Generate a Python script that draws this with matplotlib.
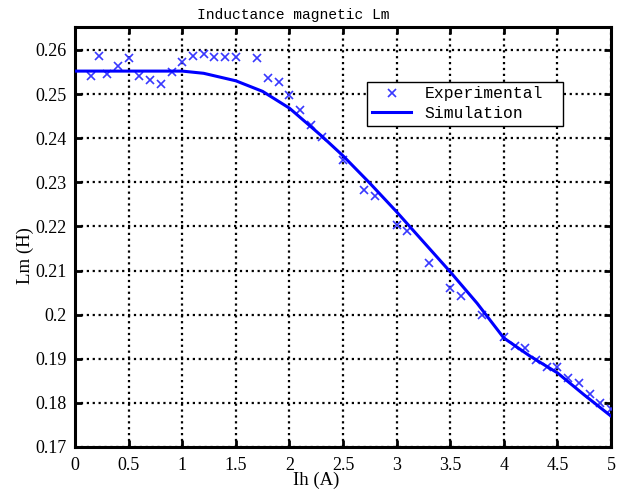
import matplotlib
matplotlib.use("Agg")
import matplotlib.pyplot as plt

# experimental points
exp_x = [0.15, 0.22, 0.3, 0.4, 0.5, 0.6, 0.7, 0.8, 0.9, 1.0, 1.1, 1.2, 1.3, 1.4, 1.5,
         1.7, 1.8, 1.9, 2.0, 2.1, 2.2, 2.3, 2.5, 2.7, 2.8, 3.0, 3.1, 3.3, 3.5, 3.6,
         3.8, 4.0, 4.1, 4.2, 4.3, 4.4, 4.5, 4.6, 4.7, 4.8, 4.9, 5.0]
exp_y = [0.2540, 0.2587, 0.2545, 0.2564, 0.2582, 0.2540, 0.2531, 0.2522, 0.2550, 0.2573,
         0.2587, 0.2590, 0.2584, 0.2584, 0.2584, 0.2581, 0.2537, 0.2528, 0.2498, 0.2463,
         0.2429, 0.2402, 0.2351, 0.2283, 0.2268, 0.2204, 0.2190, 0.2117, 0.2060, 0.2043,
         0.1999, 0.1949, 0.1928, 0.1925, 0.1898, 0.1882, 0.1882, 0.1856, 0.1844, 0.1819,
         0.1800, 0.1785]

# simulation curve
sim_x = [0, 1.0, 1.2, 1.5, 1.75, 2.0, 2.3, 2.5, 2.75, 3.0, 3.25, 3.5, 3.75, 4.0,
         4.25, 4.5, 4.75, 5.0]
sim_y = [0.2552, 0.2552, 0.2547, 0.2530, 0.2506, 0.2468, 0.2405, 0.2360, 0.2298,
         0.2233, 0.2165, 0.2097, 0.2026, 0.1947, 0.1905, 0.1868, 0.1818, 0.1770]

xticks = [0, 0.5, 1, 1.5, 2, 2.5, 3, 3.5, 4, 4.5, 5]
xlabels = ["0", "0.5", "1", "1.5", "2", "2.5", "3", "3.5", "4", "4.5", "5"]
yticks = [0.17, 0.18, 0.19, 0.2, 0.21, 0.22, 0.23, 0.24, 0.25, 0.26]
ylabels = ["0.17", "0.18", "0.19", "0.2", "0.21", "0.22", "0.23", "0.24", "0.25", "0.26"]

serif = ['Liberation Serif', 'DejaVu Serif']
mono = ['Liberation Mono', 'DejaVu Sans Mono']

fig = plt.figure(figsize=(6.18, 4.95), dpi=100)
ax = fig.add_axes([0.1214, 0.097, 0.8673, 0.8485])

ax.plot(exp_x, exp_y, 'x', color='#3838ff', markersize=6, markeredgewidth=1.2,
        label='Experimental', zorder=3)
ax.plot(sim_x, sim_y, '-', color='#0000ff', linewidth=2.2, label='Simulation', zorder=4)

ax.set_xlim(0, 5)
ax.set_ylim(0.17, 0.2652)
ax.set_xticks(xticks)
ax.set_xticklabels(xlabels, family=serif, fontsize=13)
ax.set_yticks(yticks)
ax.set_yticklabels(ylabels, family=serif, fontsize=13)

ax.grid(True, color='black', linestyle=':', linewidth=1.6)
ax.tick_params(axis='x', direction='in', length=5, width=2, top=True, pad=7)
ax.tick_params(axis='y', direction='in', length=5, width=2, right=True, pad=6)
for s in ax.spines.values():
    s.set_linewidth(2.2)

ax.set_title('Inductance magnetic Lm', family=mono, fontsize=10.5, pad=6, x=0.407)
ax.set_xlabel('Ih (A)', family=serif, fontsize=13.5)
ax.xaxis.set_label_coords(0.45, -0.06)
ax.set_ylabel('Lm (H)', family=serif, fontsize=13.5)
ax.yaxis.set_label_coords(-0.077, 0.455)

leg = ax.legend(loc='upper left', bbox_to_anchor=(0.545, 0.87, 0.366, 0.0),
                mode='expand', fancybox=False,
                edgecolor='black', framealpha=1, borderpad=0.3, handlelength=2.4,
                handletextpad=0.8, labelspacing=0.25, borderaxespad=0,
                prop={'family': mono, 'size': 11.8})
leg.get_frame().set_linewidth(1.0)

fig.savefig('out.png', dpi=100)
